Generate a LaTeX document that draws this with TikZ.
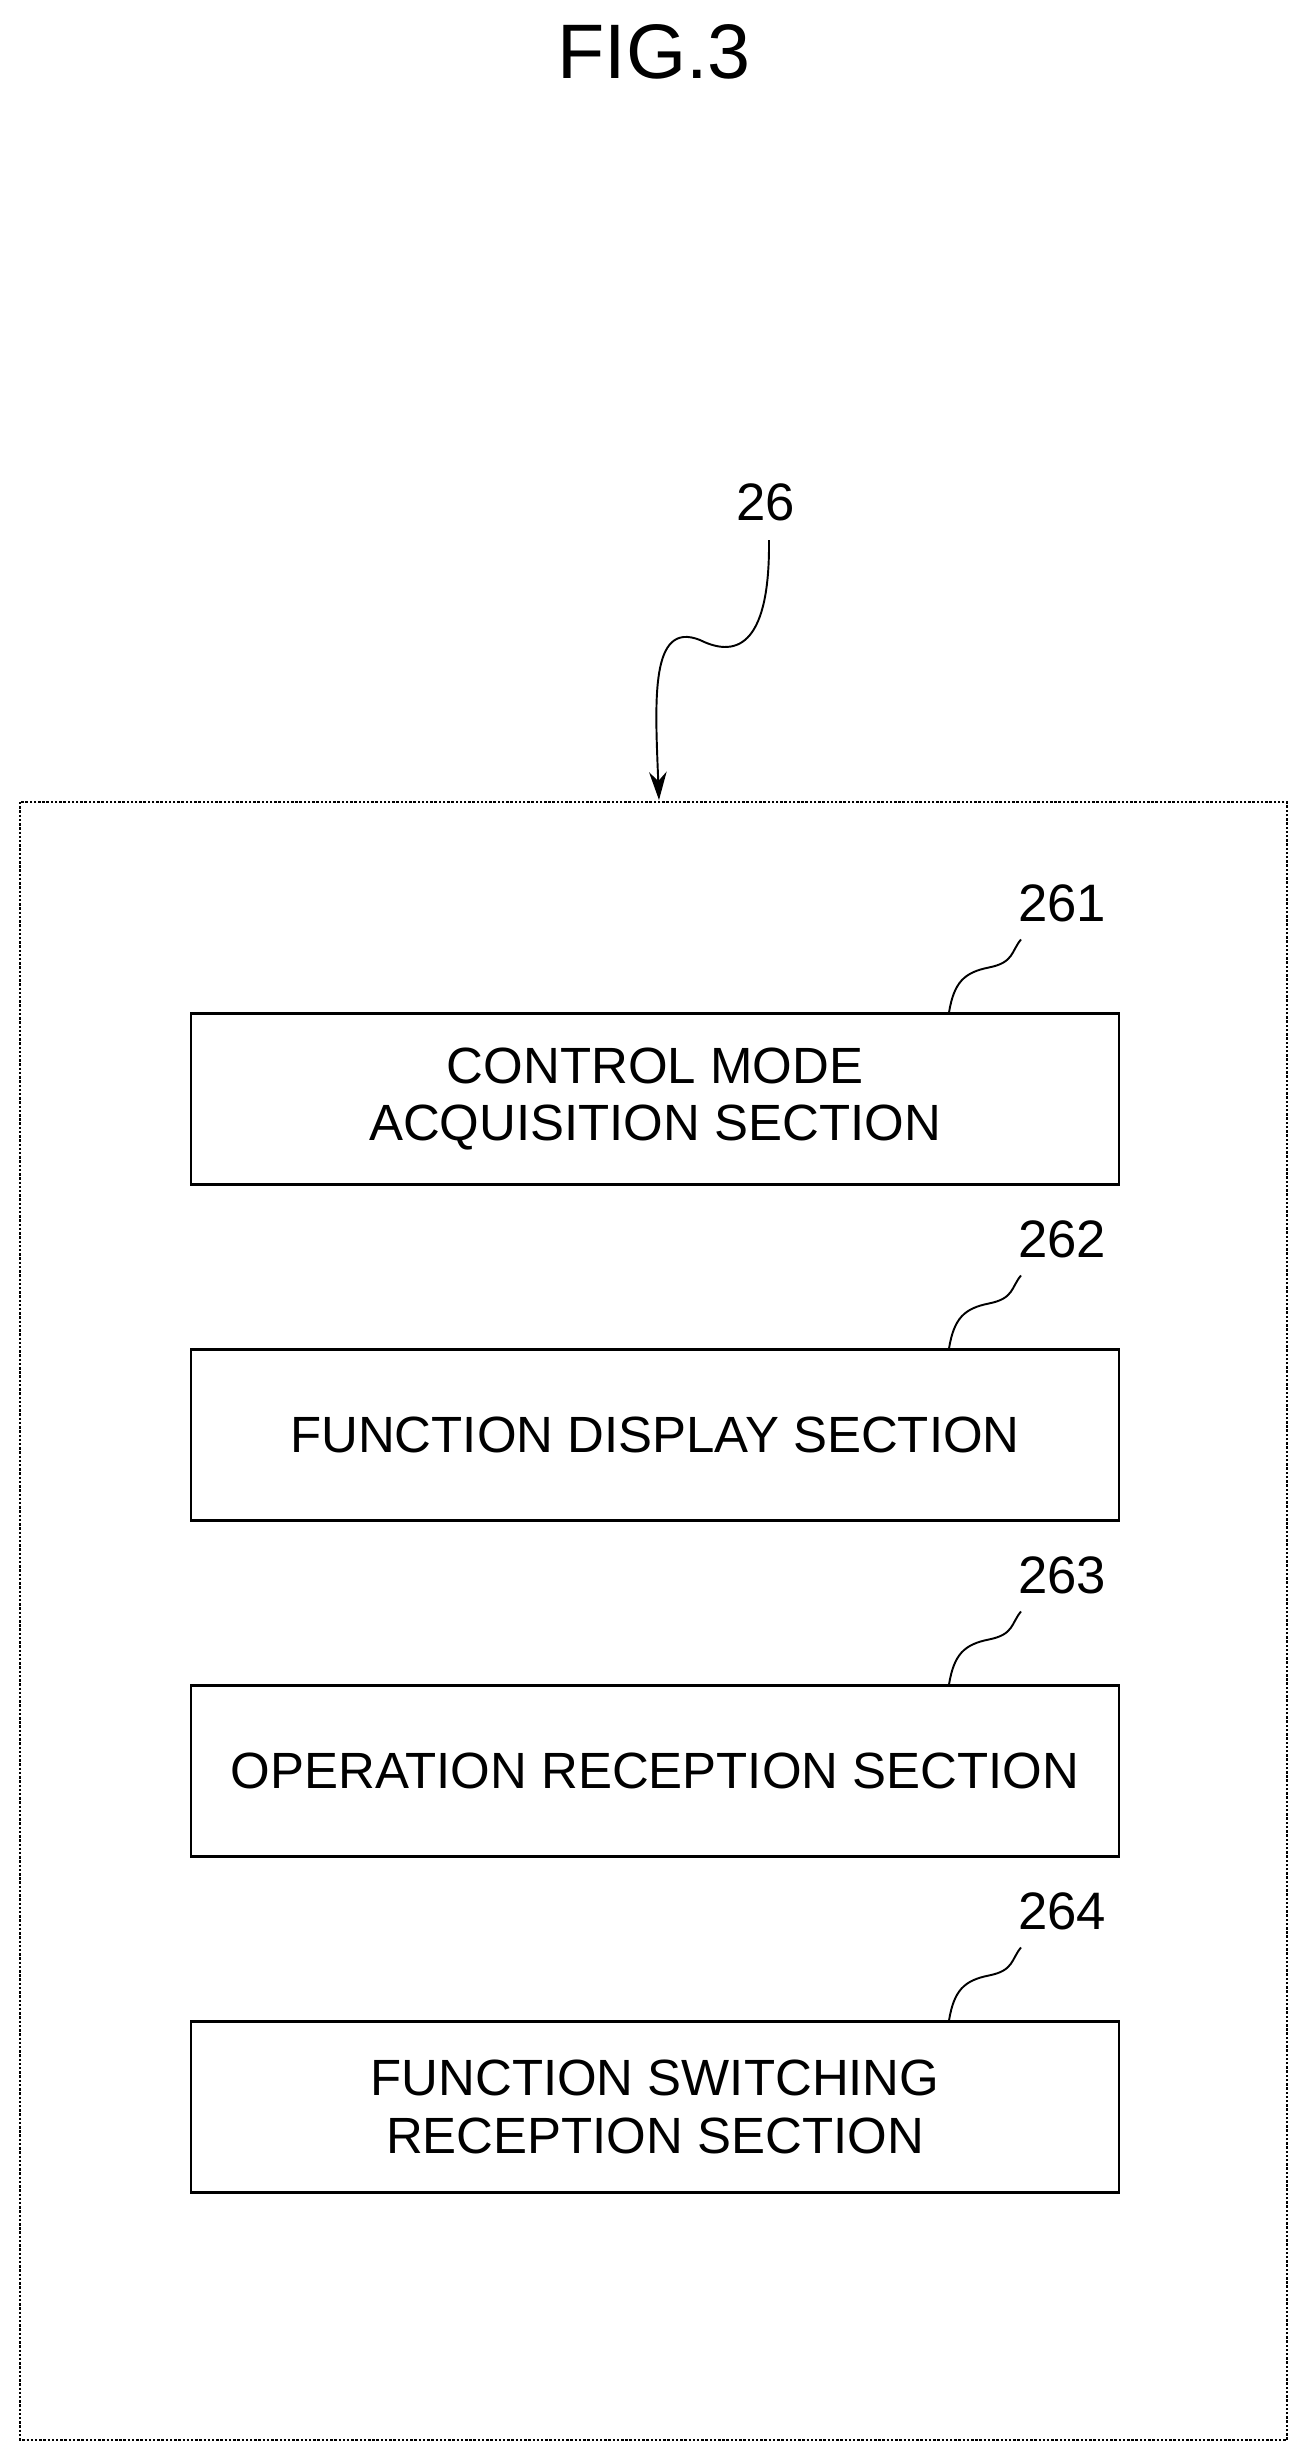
\documentclass[tikz,border=0pt]{standalone}
\usepackage{fontspec}
\setmainfont{Liberation Sans}
\usetikzlibrary{calc,arrows.meta}
\begin{document}
\begin{tikzpicture}[x=0.02cm,y=-0.02cm,
  box/.style={draw,line width=1.2pt,minimum width=928*0.02cm,minimum height=171*0.02cm,align=center,font=\fontsize{29}{33}\selectfont,inner sep=0pt},
  num/.style={font=\fontsize{30}{34}\selectfont},
  lead/.style={line width=1.1pt}]
\useasboundingbox (0,0) rectangle (1302,2449);
\node (fig) at (654,52) {\fontsize{44}{50}\selectfont FIG.3};
\draw[densely dotted,line width=1.4pt] (20,802) rectangle (1287,2440);
\coordinate (top) at (659,800);
\node[num] (n26) at (766,502) {26};
\draw[lead,-{Stealth[length=16pt,width=10pt]}] (769,540) .. controls (770,640) and (740,660) .. (700,640) .. controls (650,620) and (655,700) .. (top);
\node[box] (b1) at (655,1099) {CONTROL MODE\\ACQUISITION SECTION};
\node[box] (b2) at (655,1435) {FUNCTION DISPLAY SECTION};
\node[box] (b3) at (655,1771) {OPERATION RECEPTION SECTION};
\node[box] (b4) at (655,2107) {FUNCTION SWITCHING\\RECEPTION SECTION};
\foreach \b/\t in {b1/261,b2/262,b3/263,b4/264}{
  \node[num] (l\t) at ($(\b.north)+(407,-109)$) {\t};
  \draw[lead] (\b.north) ++(294,0) .. controls +(5,-30) and +(-25,5) .. ++(40,-45) .. controls +(25,-5) and +(-10,12) .. ++(32,-28);
}
\end{tikzpicture}
\end{document}
